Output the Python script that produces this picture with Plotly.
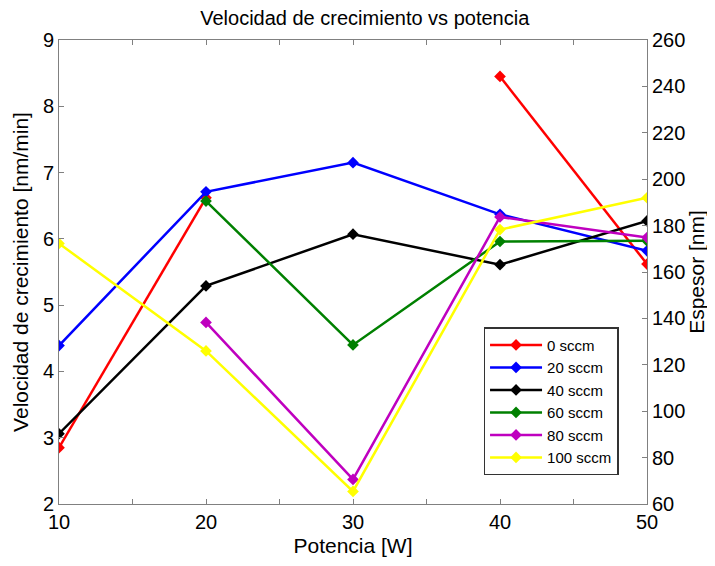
import plotly.graph_objects as go

potencia = [10, 20, 30, 40, 50]
series_names = ["0 sccm", "20 sccm", "40 sccm", "60 sccm", "80 sccm", "100 sccm"]
v0 = [2.85, 6.62, None, 8.45, 5.62]
v20 = [4.39, 6.71, 7.15, 6.37, 5.82]
v40 = [3.06, 5.29, 6.07, 5.61, 6.27]
v60 = [None, 6.57, 4.40, 5.96, 5.97]
v80 = [None, 4.74, 2.37, 6.33, 6.02]
v100 = [5.93, 4.31, 2.19, 6.14, 6.62]
colors = ["#ff0000", "#0000ff", "#000000", "#008000", "#bf00bf", "#ffff00"]
x_ticks = [10, 20, 30, 40, 50]
left_ticks = [2, 3, 4, 5, 6, 7, 8, 9]
right_ticks = [60, 80, 100, 120, 140, 160, 180, 200, 220, 240, 260]

all_vals = [v0, v20, v40, v60, v80, v100]

fig = go.Figure()
for name, vals, c in zip(series_names, all_vals, colors):
    fig.add_trace(go.Scatter(
        x=potencia, y=vals, name=name, mode="lines+markers",
        line=dict(color=c, width=2.5),
        marker=dict(symbol="diamond", size=9, color=c),
        connectgaps=False,
    ))
# dummy trace to activate right axis
fig.add_trace(go.Scatter(x=[None], y=[None], yaxis="y2", showlegend=False, hoverinfo="skip"))

axis_color = "#808080"
font = "Liberation Sans, Arial, sans-serif"
fig.update_layout(
    width=707, height=558,
    margin=dict(l=49, r=68, t=32, b=62),
    paper_bgcolor="white", plot_bgcolor="white",
    font=dict(family=font, size=20, color="black"),
    title=dict(text="Velocidad de crecimiento vs potencia", x=0.52, xref="paper",
               xanchor="center",
               y=0.982, yref="container", yanchor="middle", font=dict(size=20)),
    xaxis=dict(range=[10, 50], tickvals=x_ticks, ticks="inside", ticklen=5,
               tickcolor=axis_color, showline=True, linecolor=axis_color, linewidth=1,
               mirror="ticks", showgrid=False, zeroline=False,
               minor=dict(dtick=5, ticks="inside", ticklen=5, tickcolor=axis_color),
               title=dict(text="Potencia [W]", font=dict(size=21), standoff=6),
               tickfont=dict(size=20)),
    yaxis=dict(range=[2, 9], tickvals=left_ticks, ticks="inside", ticklen=5,
               tickcolor=axis_color, showline=True, linecolor=axis_color, linewidth=1,
               showgrid=False, zeroline=False,
               title=dict(text="Velocidad de crecimiento [nm/min]", font=dict(size=21), standoff=8),
               tickfont=dict(size=20)),
    yaxis2=dict(range=[60, 260], tickvals=right_ticks, overlaying="y", side="right",
                ticks="inside", ticklen=5, tickcolor=axis_color, showline=True,
                linecolor=axis_color, linewidth=1, showgrid=False, zeroline=False,
                title=dict(text="Espesor [nm]", font=dict(size=21), standoff=2),
                tickfont=dict(size=20)),
    legend=dict(x=0.722, y=0.381, xanchor="left", yanchor="top",
                bgcolor="white", bordercolor="#333333", borderwidth=1.5,
                font=dict(size=15), tracegroupgap=0, itemwidth=52),
    showlegend=True,
)

fig.write_html("out.html")
